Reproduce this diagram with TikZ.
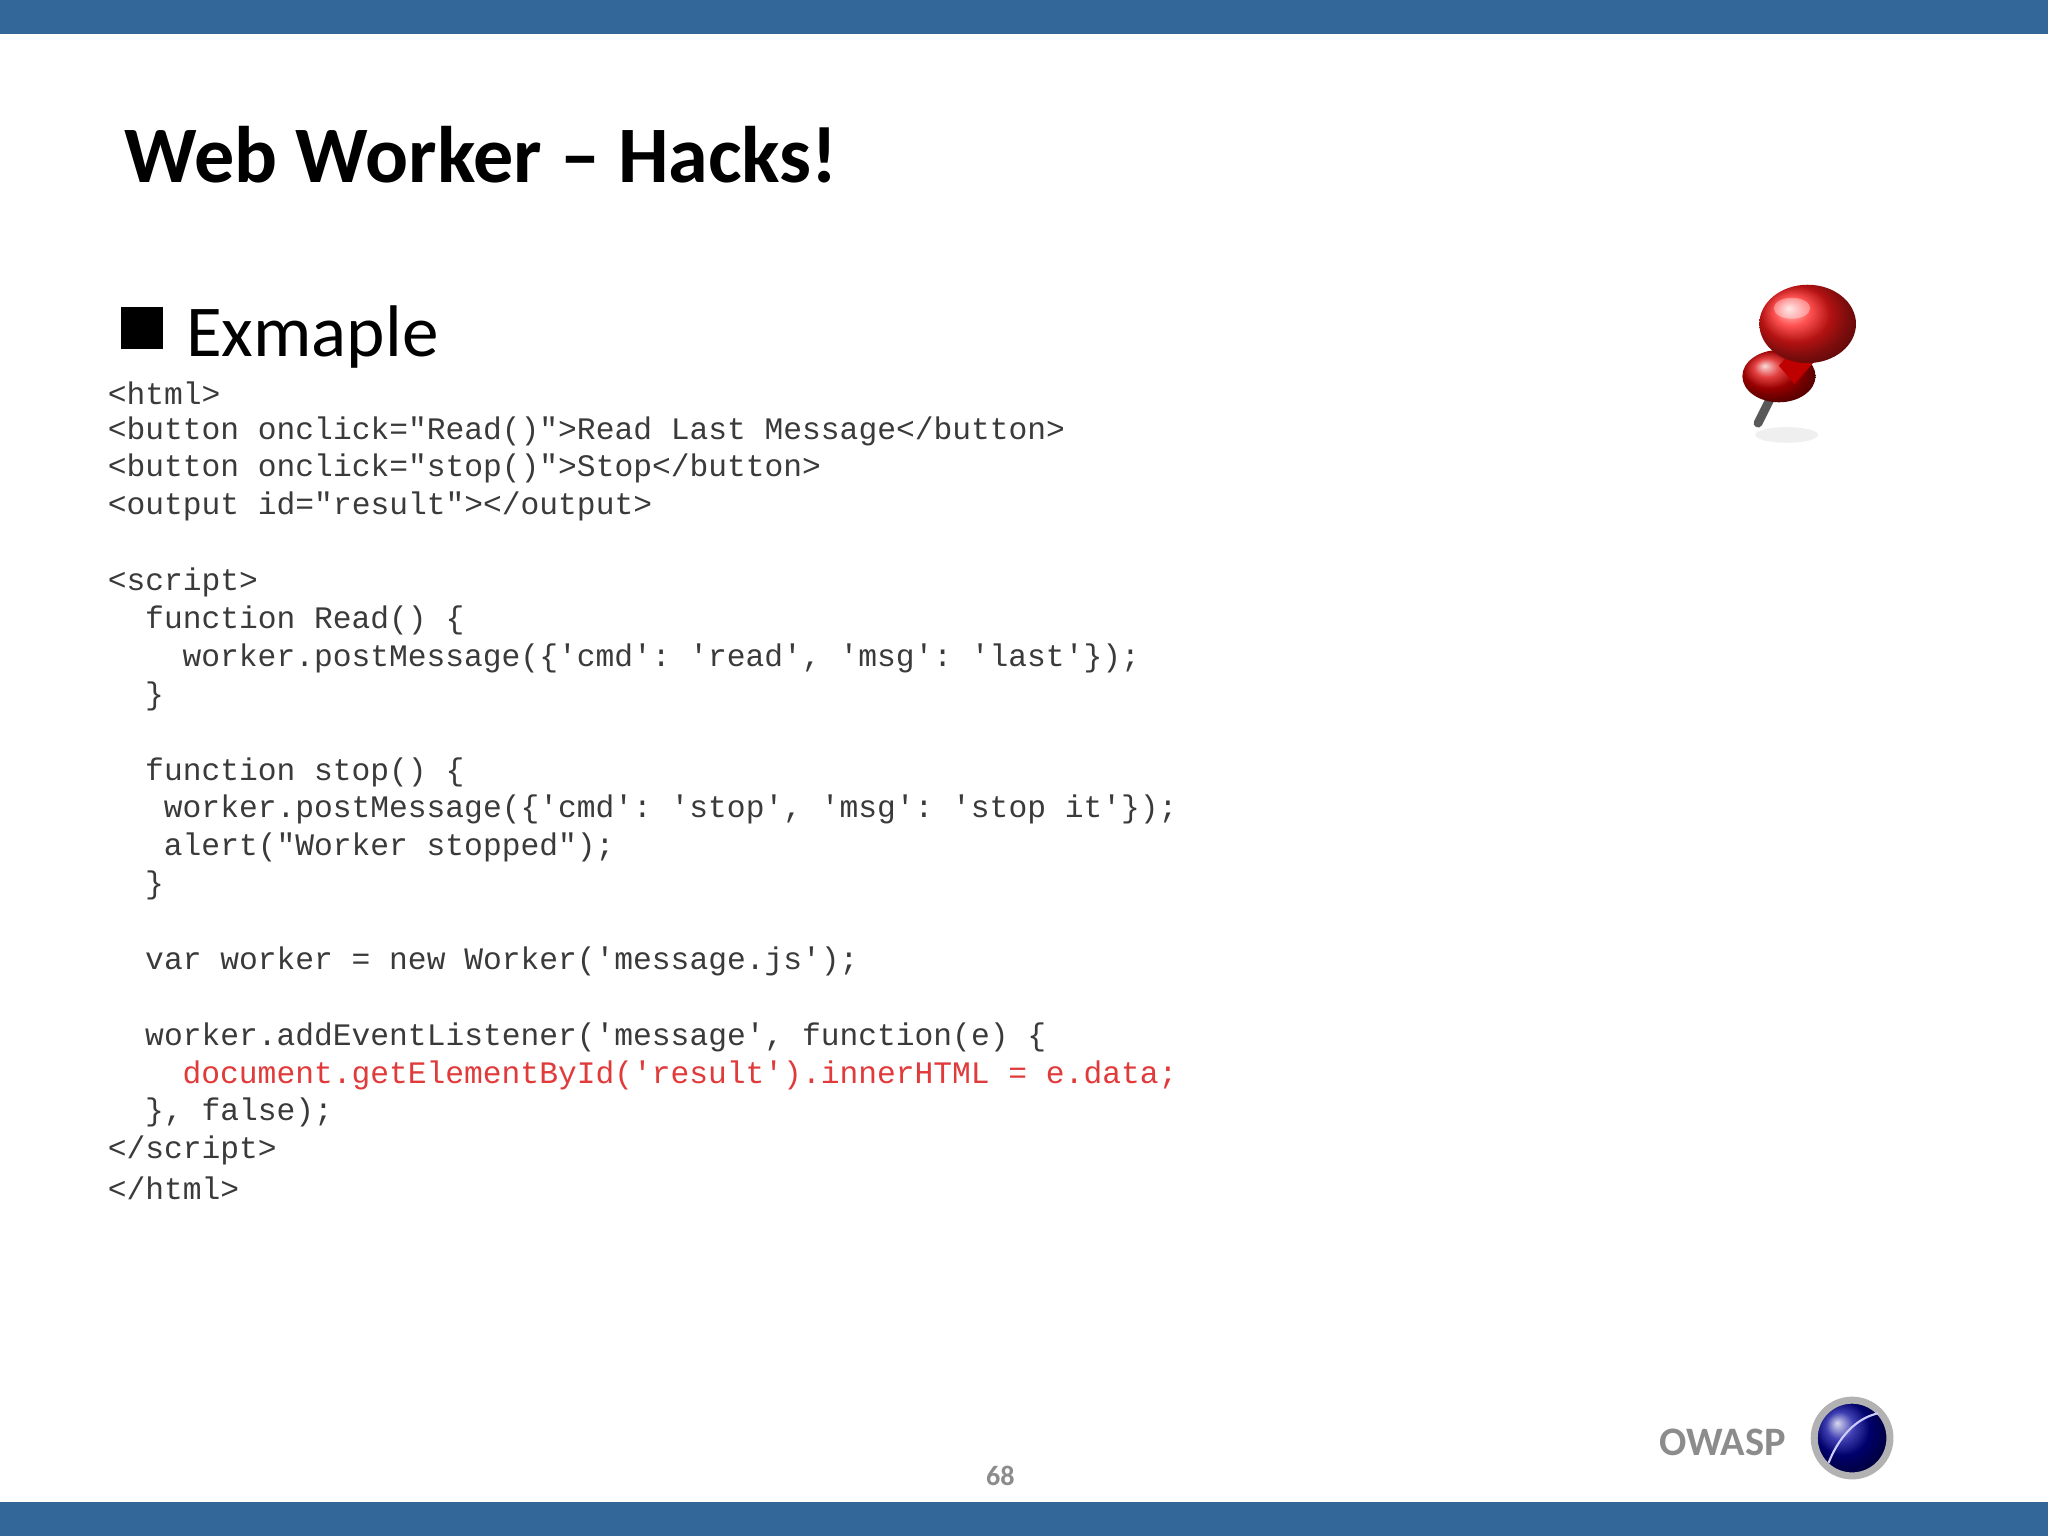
\documentclass[tikz,border=0pt]{standalone}
\usepackage{fontspec}
\setmainfont{Carlito}
\setmonofont{Liberation Mono}
\usetikzlibrary{shapes.geometric}
\definecolor{barblue}{HTML}{336699}
\definecolor{codegray}{HTML}{3A3A3A}
\definecolor{codered}{HTML}{E03A3A}
\definecolor{owgray}{HTML}{8C8C8C}
\tikzset{code/.style={anchor=west,inner sep=0pt,font=\fontsize{8.9pt}{10pt}\ttfamily,text=codegray}}
\newcommand{\cl}[4][codegray]{\node[code,text=#1] (l#2) at ({82+14.33*#3},{301+29*#2}) {#4};}
\begin{document}
\begin{tikzpicture}[x=0.013061cm,y=-0.013061cm]
\useasboundingbox (0,0) rectangle (1568,1176);
\fill[barblue] (0,0) rectangle (1568,26);
\fill[barblue] (0,1150) rectangle (1568,1176);
\node[anchor=base west,inner sep=0pt,font=\fontsize{22.8pt}{27pt}\bfseries] (title) at (95,140) {Web Worker – Hacks!};
\fill (93,235) rectangle (125,267);
\node[anchor=base west,inner sep=0pt,font=\fontsize{20.8pt}{25pt}\selectfont] (ex) at (142,273) {Exmaple};
\cl{0}{0}{<html>}
\cl{1}{0}{<button onclick="Read()">Read Last Message</button>}
\cl{2}{0}{<button onclick="stop()">Stop</button>}
\cl{3}{0}{<output id="result"></output>}
\cl{5}{0}{<script>}
\cl{6}{2}{function Read() \{}
\cl{7}{4}{worker.postMessage(\{'cmd': 'read', 'msg': 'last'\});}
\cl{8}{2}{\}}
\cl{10}{2}{function stop() \{}
\cl{11}{3}{worker.postMessage(\{'cmd': 'stop', 'msg': 'stop it'\});}
\cl{12}{3}{alert("Worker stopped");}
\cl{13}{2}{\}}
\cl{15}{2}{var worker = new Worker('message.js');}
\cl{17}{2}{worker.addEventListener('message', function(e) \{}
\cl[codered]{18}{4}{document.getElementById('result').innerHTML = e.data;}
\cl{19}{2}{\}, false);}
\cl{20}{0}{</script>}
\cl{21}{0}{</html>}
% pushpin
\fill[gray!25,opacity=0.5] (1368,333) ellipse (24 and 6);
\draw[gray!70!black,line width=2.5pt,line cap=round] (1358,300) -- (1346,324);
\shade[ball color=red!85!black] (1362,288) ellipse (28 and 20);
\fill[red!75!black] (1362,280) -- (1390,248) -- (1402,262) -- (1374,294) -- cycle;
\shade[ball color=red!90] (1384,248) ellipse (37 and 30);
\fill[white,opacity=0.35] (1372,236) ellipse (14 and 8);
% footer
\node[anchor=base east,inner sep=0pt,font=\fontsize{11.5pt}{13pt}\bfseries,text=owgray] (owasp) at (1368,1114) {OWASP};
\shade[ball color=blue!60!black] (1418,1101) circle (29);
\draw[gray!60,line width=2pt] (1418,1101) circle (29);
\draw[white!80!blue,line width=0.6pt] (1400,1120) .. controls (1410,1095) and (1425,1085) .. (1438,1082);
\node[inner sep=0pt,font=\fontsize{8pt}{9pt}\bfseries,text=owgray] (pg) at (766,1130) {68};
\end{tikzpicture}
\end{document}
